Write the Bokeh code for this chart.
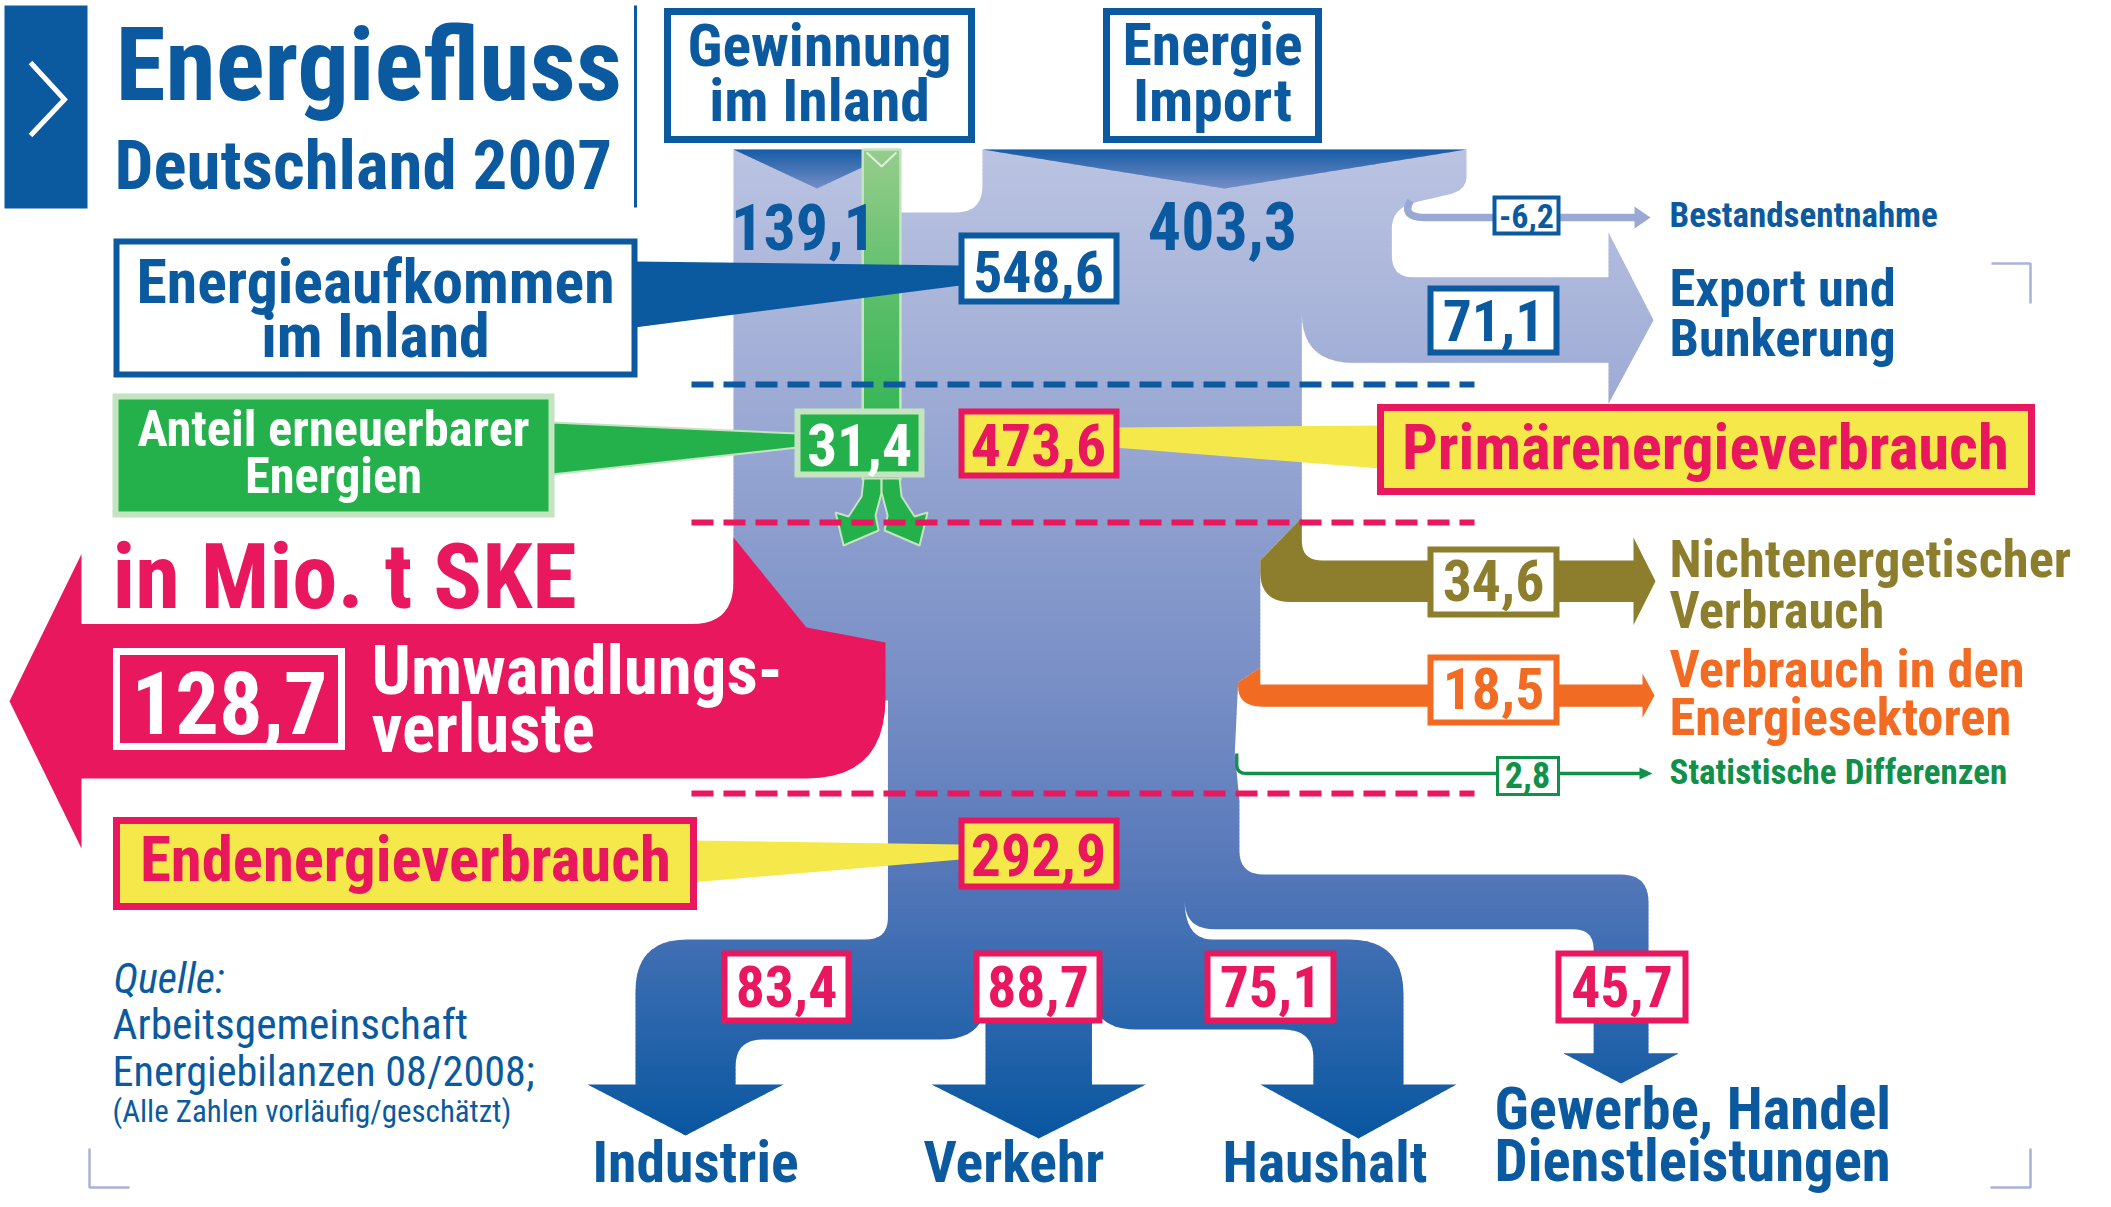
import numpy as np
from bokeh.plotting import figure
from bokeh.models import Range1d, ColumnDataSource
from bokeh.core.properties import value
from bokeh.embed import file_html
from bokeh.resources import INLINE

# ---------------- data (Mio. t SKE) ----------------
source_labels = ["Gewinnung\nim Inland", "Energie\nImport"]
source_values = [139.1, 403.3]
aufkommen_label = "Energieaufkommen\nim Inland"
aufkommen_value = 548.6
bestand_label = "Bestandsentnahme"
bestand_value = -6.2
export_label = "Export und\nBunkerung"
export_value = 71.1
primaer_label = "Primärenergieverbrauch"
primaer_value = 473.6
erneuerbar_label = "Anteil erneuerbarer\nEnergien"
erneuerbar_value = 31.4
umwandlung_label = "Umwandlungs-\nverluste"
umwandlung_value = 128.7
side_labels = ["Nichtenergetischer\nVerbrauch", "Verbrauch in den\nEnergiesektoren", "Statistische Differenzen"]
side_values = [34.6, 18.5, 2.8]
endenergie_label = "Endenergieverbrauch"
endenergie_value = 292.9
sector_labels = ["Industrie", "Verkehr", "Haushalt", "Gewerbe, Handel\nDienstleistungen"]
sector_values = [83.4, 88.7, 75.1, 45.7]
title_lines = ["Energiefluss", "Deutschland 2007"]
unit_label = "in Mio. t SKE"
source_note = ["Quelle:", "Arbeitsgemeinschaft", "Energiebilanzen 08/2008;", "(Alle Zahlen vorläufig/geschätzt)"]

# ---------------- style ----------------
FONT = "Roboto Condensed"
FS = 1.03     # font scale
KB = 0.29     # baseline correction (fraction of font size)
BLUE = "#0b5aa0"
PINK = "#e9175d"
YELLOW = "#f5e84b"
GREEN = "#24b14c"
LGREEN = "#c4e4c1"
OLIVE = "#8c7e2c"
ORANGE = "#f26b22"
DGREEN = "#11904a"
PALE = "#9aa9d4"
BRACKET = "#a8b3d9"

S = 1.2  # px per Mio. t SKE (flow widths)
W, H = 2103, 1199


def fmt(v):
    return f"{v:.1f}".replace(".", ",")


def Q(c, e):
    return ("q", c, e)


def path(*items):
    pts = []
    for it in items:
        if isinstance(it, tuple) and len(it) == 3 and it[0] == "q":
            _, c, e = it
            p0 = pts[-1]
            for t in np.linspace(0, 1, 12)[1:]:
                x = (1 - t) ** 2 * p0[0] + 2 * (1 - t) * t * c[0] + t ** 2 * e[0]
                y = (1 - t) ** 2 * p0[1] + 2 * (1 - t) * t * c[1] + t ** 2 * e[1]
                pts.append((x, y))
        else:
            pts.append(it)
    return pts


def clip_band(poly, y0, y1):
    def clip(pts, keep, c):
        out = []
        n = len(pts)
        for i in range(n):
            cur, prev = pts[i], pts[i - 1]
            ci, pi = keep(cur), keep(prev)
            if ci != pi:
                t = (c - prev[1]) / (cur[1] - prev[1])
                out.append((prev[0] + t * (cur[0] - prev[0]), c))
            if ci:
                out.append(cur)
        return out
    pts = clip(poly, lambda q: q[1] >= y0, y0)
    if len(pts) < 3:
        return []
    return clip(pts, lambda q: q[1] <= y1, y1)


def col(y, stops):
    if y <= stops[0][0]:
        c = stops[0][1]
    elif y >= stops[-1][0]:
        c = stops[-1][1]
    else:
        for (ya, ca), (yb, cb) in zip(stops[:-1], stops[1:]):
            if ya <= y <= yb:
                t = (y - ya) / (yb - ya)
                c = tuple(ca[k] + t * (cb[k] - ca[k]) for k in range(3))
                break
    return "#%02x%02x%02x" % tuple(int(round(v)) for v in c)


p = figure(width=W, height=H, x_range=Range1d(0, W), y_range=Range1d(H, 0),
           output_backend="svg", toolbar_location=None, min_border=0,
           x_axis_type=None, y_axis_type=None)
p.grid.visible = False
p.outline_line_color = None
p.background_fill_color = "white"
p.border_fill_color = "white"


def grad(poly, stops, step=4):
    ys = [q[1] for q in poly]
    y0, y1 = min(ys), max(ys)
    XS_, YS_, C_ = [], [], []
    y = y0
    while y < y1:
        piece = clip_band(poly, y, min(y + step + 0.8, y1))
        if len(piece) >= 3:
            XS_.append([q[0] for q in piece])
            YS_.append([q[1] for q in piece])
            C_.append(col(y + step / 2, stops))
        y += step
    p.patches(xs="xs", ys="ys", fill_color="c", line_color=None,
              source=ColumnDataSource(dict(xs=XS_, ys=YS_, c=C_)))


def poly(pts, fill, line=None, lw=1):
    p.patch([q[0] for q in pts], [q[1] for q in pts], fill_color=fill, line_color=line, line_width=lw)


def box(l, r, t, b, fill, line, lw):
    p.quad(left=[l], right=[r], top=[t], bottom=[b], fill_color=fill, line_color=line, line_width=lw,
           line_join="miter")


def txt(x, y, s, size, color, align="left", style="bold"):
    sz = size * FS
    p.text(x=[x], y=[y - KB * sz], text=[s], text_font=value(FONT), text_font_size=value(f"{sz:.1f}px"),
           text_font_style=style, text_color=color, text_align=align, text_baseline="alphabetic")


def lines(x, ys, s, size, color, align="left", style="bold"):
    for yy, ln in zip(ys, s.split("\n")):
        txt(x, yy, ln, size, color, align, style)


# ---------------- geometry from values ----------------
gew, imp = source_values
XL = 733
XG = XL + S * gew
XI0 = 982
XI1 = XI0 + S * imp
XA = XL + S * aufkommen_value
XP = XL + S * primaer_value
XO = XP - S * side_values[0]
XS = XO - S * side_values[1]
XD = XS - S * side_values[2]
XE0 = XL + S * umwandlung_value
XE1 = XE0 + S * endenergie_value
EY0 = 277
EY1 = EY0 + S * export_value
EX = 1608
OY0 = 560
OY1 = OY0 + S * side_values[0]
OLX = 1633
RY0 = 684
RY1 = RY0 + S * side_values[1]
ORX = 1642
SY = 773
PY1 = 778
PY0 = PY1 - S * umwandlung_value

ind, ver, hau, gwb = sector_values
GW_R = 1648
GW_L = GW_R - S * gwb
GY0 = 874
GY1 = GY0 + S * gwb
XN = XE1 - S * gwb
TOPY = 939
IN_L = 635
IN_R = IN_L + S * ind
IN_B = TOPY + S * ind
VK_L = 985
VK_R = VK_L + S * ver
HH_R = 1403
HH_L = HH_R - S * hau
HH_B = TOPY + S * hau
AY = 1084
GA = 1053

trunk = path(
    (XL, 149), (XG, 149), (XG, 212), (XI0 - 27, 212), Q((XI0, 212), (XI0, 185)), (XI0, 149),
    (XI1, 149), (XI1, 176), Q((XI1, 190), (1448, 194)), (1414, 202), Q((XA, 208), (XA, 228)),
    (XA, EY0 - 22), Q((XA, EY0), (XA + 22, EY0)),
    (EX, EY0), (EX, EY0 - 45), (EX + 45, (EY0 + EY1) / 2), (EX, EY1 + 41), (EX, EY1),
    (XP + 52, EY1), Q((XP, EY1), (XP, EY1 - 50)),
    (XP, 517), (XO, OY0), (XO, RY0 - 17), (XS, RY0 - 2), (XD, SY - 20), (XE1, 800), (XE1, GY0 - 24),
    Q((XE1, GY0), (XE1 + 24, GY0)), (GW_R - 28, GY0), Q((GW_R, GY0), (GW_R, GY0 + 28)),
    (GW_R, GA), (GW_R + 30, GA), ((GW_L + GW_R) / 2, GA + 30), (GW_L - 30, GA), (GW_L, GA),
    (GW_L, GY1 + 20), Q((GW_L, GY1), (GW_L - 20, GY1)), (XN + 30, GY1), Q((XN, GY1), (XN, GY1 - 30)),
    Q((XN, TOPY), (XN + 28, TOPY)), (HH_R - 55, TOPY), Q((HH_R, TOPY), (HH_R, TOPY + 55)),
    (HH_R, AY), (HH_R + 53, AY), ((HH_L + HH_R) / 2, AY + 54), (HH_L - 53, AY), (HH_L, AY),
    (HH_L, HH_B + 28), Q((HH_L, HH_B), (HH_L - 30, HH_B)), (VK_R + 45, HH_B),
    Q((VK_R, HH_B), (VK_R, HH_B - 40)), (VK_R, AY),
    (VK_R + 54, AY), ((VK_L + VK_R) / 2, AY + 54), (VK_L - 54, AY), (VK_L, AY),
    (VK_L, IN_B - 40), Q((VK_L, IN_B), (VK_L - 45, IN_B)), (IN_R + 27, IN_B),
    Q((IN_R, IN_B), (IN_R, IN_B + 27)), (IN_R, AY),
    (IN_R + 48, AY), ((IN_L + IN_R) / 2, AY + 51), (IN_L - 48, AY), (IN_L, AY),
    (IN_L, TOPY + 52), Q((IN_L, TOPY), (IN_L + 52, TOPY)), (XE0 - 22, TOPY), Q((XE0, TOPY), (XE0, TOPY - 22)),
    (XE0, 700), (XL, 700),
)
trunk_stops = [(149, (186, 195, 225)), (300, (170, 181, 218)), (520, (141, 158, 206)),
               (700, (118, 141, 197)), (860, (88, 121, 186)), (1000, (48, 104, 174)), (1138, (8, 86, 160))]
grad(trunk, trunk_stops)

tri_stops = [(149, (22, 92, 166)), (189, (120, 143, 199))]
grad([(XL, 149), (XG, 149), ((XL + XG) / 2, 188)], tri_stops, step=2)
grad([(XI0, 149), (XI1, 149), ((XI0 + XI1) / 2, 188)], tri_stops, step=2)

bw = S * abs(bestand_value)
bpts = path((1410, 200), Q((1400, 217), (1425, 217)), (1636, 217))
p.line([q[0] for q in bpts], [q[1] for q in bpts], line_color=PALE, line_width=bw)
poly([(1634, 206), (1650, 217), (1634, 228)], PALE)

pc = (PY0 + PY1) / 2
pink = path((81, PY0 - 70), (81, PY0), (691, PY0), Q((733, PY0), (733, PY0 - 42)), (733, 537), (806, 627),
            (885, 642), (885, 697), Q((885, PY1), (806, PY1)), (81, PY1), (81, PY1 + 70), (9, pc))
poly(pink, PINK)

olive = path((XP, 517), (XP, OY0 - 20), Q((XP, OY0), (XP + 20, OY0)), (OLX, OY0), (OLX, OY0 - 23),
             (OLX + 22, (OY0 + OY1) / 2), (OLX, OY1 + 23), (OLX, OY1), (XO + 30, OY1),
             Q((XO, OY1), (XO, OY1 - 30)), (XO, OY0))
poly(olive, OLIVE)

orange = path((XO, RY0 - 17), (XO, RY0), (ORX, RY0), (ORX, RY0 - 11), (ORX + 12, (RY0 + RY1) / 2),
              (ORX, RY1 + 11), (ORX, RY1), (XS + 25, RY1), Q((XS, RY1), (XS, RY1 - 20)), (XS, RY0 - 2))
poly(orange, ORANGE)

sw = S * side_values[2]
spts = path((XD + 2, SY - 20), (XD + 2, SY - 9), Q((XD + 2, SY), (XD + 12, SY)), (1642, SY))
p.line([q[0] for q in spts], [q[1] for q in spts], line_color=DGREEN, line_width=sw)
poly([(1639, SY - 6), (1652, SY), (1639, SY + 6)], DGREEN)

XGL = XG - S * erneuerbar_value
XC = (XGL + XG) / 2
grad([(XGL, 149), (XG, 149), (XG, 480), (XGL, 480)],
     [(149, (150, 205, 140)), (300, (90, 190, 105)), (480, (36, 177, 76))], step=4)
p.line([XGL, XGL, XG, XG], [480, 149, 149, 480], line_color=LGREEN, line_width=2.5)
p.line([XGL + 4, XC, XG - 4], [152, 166, 152], line_color="#dff0dc", line_width=2)
fork_l = [(XC - 18, 478), (XC, 478), (XC, 492), (XC - 6, 515), (XC - 3, 530), (XC - 38, 545),
          (XC - 46, 512), (XC - 33, 516), (XC - 20, 496)]
fork_r = [(2 * XC - x, y) for x, y in fork_l]
poly(fork_l, GREEN, LGREEN, 2)
poly(fork_r, GREEN, LGREEN, 2)

p.line([691, 1474], [384, 384], line_color=BLUE, line_width=6, line_dash="22 10")
p.line([691, 1474], [522, 522], line_color=PINK, line_width=6, line_dash="22 10")
p.line([691, 1474], [793, 793], line_color=PINK, line_width=6, line_dash="22 10")

poly([(634, 261), (960, 265), (960, 285), (634, 327)], BLUE)
poly([(551, 422), (797, 433), (797, 447), (551, 474)], GREEN, LGREEN, 2)
poly([(1114, 427), (1380, 425), (1380, 468), (1114, 447)], YELLOW)
poly([(690, 840), (960, 844), (960, 859), (690, 882)], YELLOW)

# ---------------- boxes & texts ----------------
box(667, 971, 11, 139, "white", BLUE, 7)
box(1106, 1318, 11, 139, "white", BLUE, 7)
lines(819, [63, 118], source_labels[0], 58, BLUE, "center")
lines(1212, [62, 118], source_labels[1], 58, BLUE, "center")
txt(803, 245, fmt(source_values[0]), 62, BLUE, "center")
txt(1222, 245, fmt(source_values[1]), 64, BLUE, "center")

box(116, 634, 241, 374, "white", BLUE, 6)
lines(375, [299, 353], aufkommen_label, 60, BLUE, "center")
box(961, 1116, 235, 301, "white", BLUE, 6)
txt(1038, 288, fmt(aufkommen_value), 56, BLUE, "center")

box(115, 551, 396, 514, GREEN, LGREEN, 6)
lines(333, [443, 490], erneuerbar_label, 49, "white", "center")
box(797, 921, 411, 474, GREEN, LGREEN, 6)
txt(859, 462, fmt(erneuerbar_value), 58, "white", "center")

box(961, 1116, 411, 475, YELLOW, PINK, 6)
txt(1038, 462, fmt(primaer_value), 58, PINK, "center")
box(1380, 2031, 407, 491, YELLOW, PINK, 7)
txt(1705, 465, primaer_label, 61, PINK, "center")

txt(112, 603, unit_label, 88, PINK)
box(116, 341, 651, 746, None, "white", 7)
txt(229, 727, fmt(umwandlung_value), 84, "white", "center")
lines(371, [690, 748], umwandlung_label, 67, "white")

box(116, 693, 820, 906, YELLOW, PINK, 7)
txt(405, 877, endenergie_label, 61, PINK, "center")
box(961, 1116, 820, 886, YELLOW, PINK, 6)
txt(1038, 872, fmt(endenergie_value), 58, PINK, "center")

box(1494, 1558, 197, 233, "white", BLUE, 4)
txt(1526, 225, fmt(bestand_value), 33, BLUE, "center")
txt(1669, 225, bestand_label, 34, BLUE)
box(1430, 1556, 288, 352, "white", BLUE, 6)
txt(1493, 337, fmt(export_value), 56, BLUE, "center")
lines(1669, [303, 353], export_label, 51, BLUE)

box(1430, 1556, 549, 614, "white", OLIVE, 6)
txt(1493, 597, fmt(side_values[0]), 56, OLIVE, "center")
lines(1669, [574, 625], side_labels[0], 51, OLIVE)
box(1430, 1556, 657, 722, "white", ORANGE, 6)
txt(1493, 705, fmt(side_values[1]), 56, ORANGE, "center")
lines(1669, [684, 732], side_labels[1], 51, ORANGE)
box(1497, 1558, 757, 794, "white", DGREEN, 3)
txt(1527, 785, fmt(side_values[2]), 35, DGREEN, "center")
txt(1669, 782, side_labels[2], 34, DGREEN)

sector_box_x = [(724, 848), (976, 1099), (1207, 1333), (1558, 1685)]
for (l, r), v in zip(sector_box_x, sector_values):
    box(l, r, 953, 1020, "white", PINK, 6)
    txt((l + r) / 2, 1003, fmt(v), 56, PINK, "center")
txt(592, 1178, sector_labels[0], 56, BLUE)
txt(923, 1178, sector_labels[1], 56, BLUE)
txt(1222, 1178, sector_labels[2], 56, BLUE)
lines(1494, [1126, 1178], sector_labels[3], 57, BLUE)

box(4, 87, 5, 208, BLUE, None, 0)
p.line([30, 64, 30], [62, 99, 135], line_color="white", line_width=5, line_join="miter")
txt(115, 94, title_lines[0], 99, BLUE)
txt(114, 185, title_lines[1], 67, BLUE)
p.line([635, 635], [5, 207], line_color=BLUE, line_width=3)

txt(113, 990, source_note[0], 41, BLUE, style="italic")
txt(112, 1037, source_note[1], 42, BLUE, style="normal")
txt(112, 1083, source_note[2], 41, BLUE, style="normal")
txt(112, 1120, source_note[3], 30, BLUE, style="normal")

p.line([1991, 2030, 2030], [263, 263, 303], line_color=BRACKET, line_width=2.5)
p.line([89, 89, 129], [1148, 1187, 1187], line_color=BRACKET, line_width=2.5)
p.line([2030, 2030, 1990], [1148, 1187, 1187], line_color=BRACKET, line_width=2.5)

open("out.html", "w").write(file_html(p, INLINE))
